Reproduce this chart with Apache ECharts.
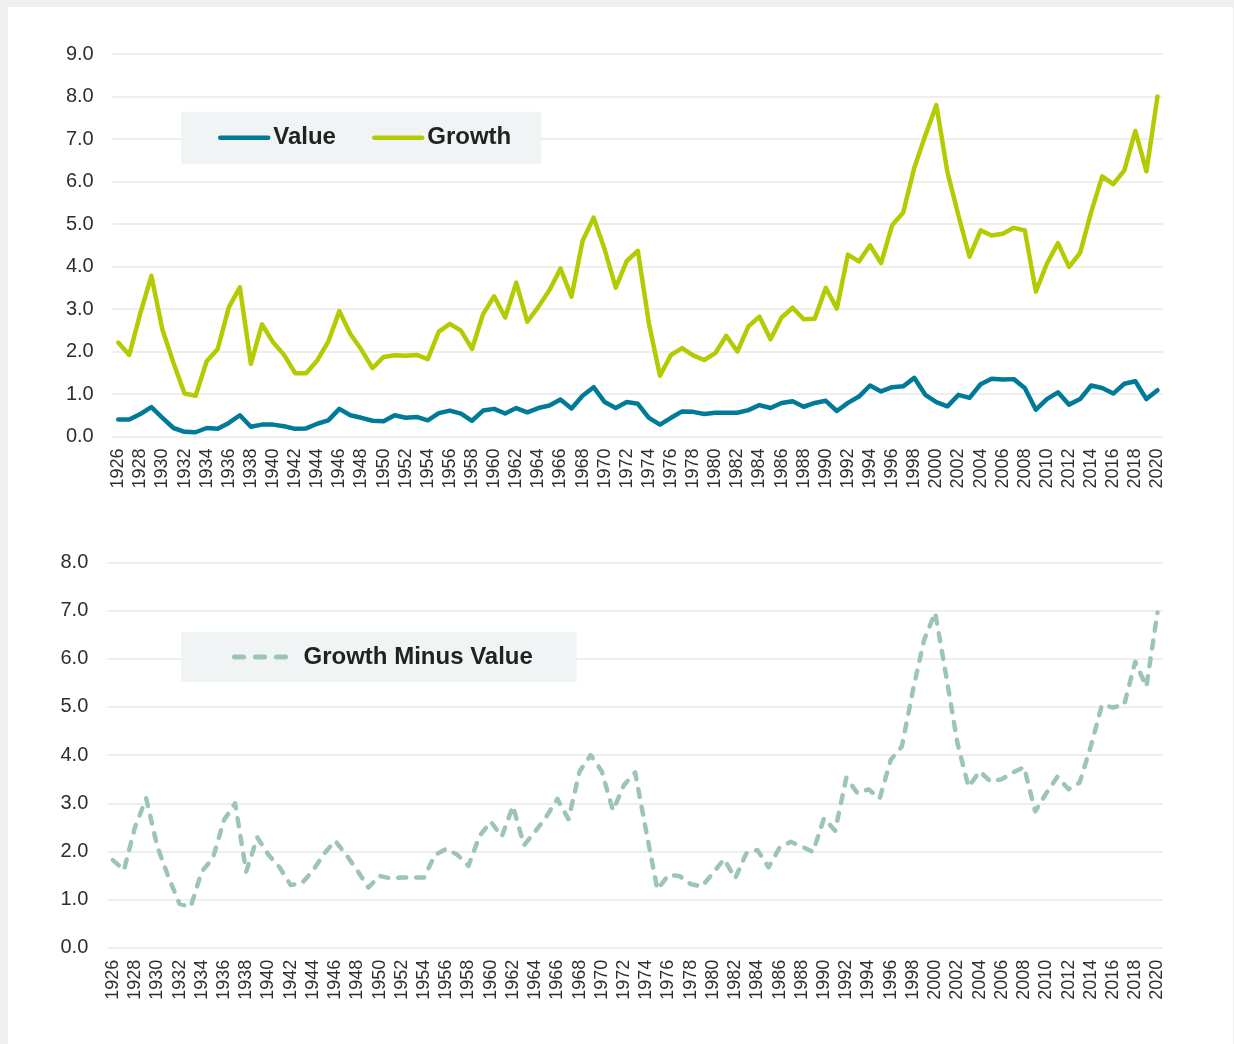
<!DOCTYPE html>
<html>
<head>
<meta charset="utf-8">
<script src="https://cdn.jsdelivr.net/npm/echarts@6/dist/echarts.min.js"></script>
<style>
  html, body { margin: 0; padding: 0; background: #efefef; width: 1234px; height: 1044px; overflow: hidden; }
  #chart { position: absolute; left: 8px; top: 7px; width: 1225px; height: 1037px; background: #ffffff; }
</style>
</head>
<body>
<div id="chart"></div>
<script>
const years = [
  '1926','1927','1928','1929','1930','1931','1932','1933','1934','1935',
  '1936','1937','1938','1939','1940','1941','1942','1943','1944','1945',
  '1946','1947','1948','1949','1950','1951','1952','1953','1954','1955',
  '1956','1957','1958','1959','1960','1961','1962','1963','1964','1965',
  '1966','1967','1968','1969','1970','1971','1972','1973','1974','1975',
  '1976','1977','1978','1979','1980','1981','1982','1983','1984','1985',
  '1986','1987','1988','1989','1990','1991','1992','1993','1994','1995',
  '1996','1997','1998','1999','2000','2001','2002','2003','2004','2005',
  '2006','2007','2008','2009','2010','2011','2012','2013','2014','2015',
  '2016','2017','2018','2019','2020'
];

const valueSeries = [
  0.40,0.40,0.53,0.69,0.44,0.20,0.11,0.10,0.20,0.18,
  0.32,0.50,0.23,0.28,0.28,0.24,0.18,0.19,0.30,0.38,
  0.65,0.50,0.44,0.37,0.36,0.50,0.44,0.46,0.38,0.55,
  0.61,0.54,0.37,0.61,0.65,0.54,0.67,0.57,0.67,0.73,
  0.87,0.66,0.96,1.16,0.81,0.67,0.81,0.77,0.44,0.28,
  0.44,0.59,0.58,0.53,0.56,0.56,0.56,0.62,0.74,0.67,
  0.79,0.83,0.70,0.79,0.84,0.60,0.79,0.94,1.20,1.06,
  1.16,1.18,1.38,0.98,0.81,0.71,0.98,0.91,1.23,1.36,
  1.34,1.35,1.14,0.63,0.88,1.04,0.75,0.88,1.20,1.14,
  1.01,1.24,1.30,0.88,1.09
];

const growthSeries = [
  2.21,1.92,2.90,3.78,2.51,1.73,1.01,0.96,1.77,2.06,
  3.04,3.51,1.71,2.64,2.22,1.92,1.49,1.49,1.79,2.23,
  2.95,2.41,2.04,1.61,1.87,1.91,1.90,1.92,1.82,2.47,
  2.65,2.49,2.06,2.88,3.30,2.80,3.62,2.70,3.05,3.44,
  3.95,3.29,4.60,5.15,4.40,3.50,4.13,4.37,2.66,1.43,
  1.92,2.08,1.91,1.80,1.96,2.37,2.00,2.59,2.82,2.29,
  2.80,3.03,2.76,2.77,3.50,3.01,4.28,4.12,4.50,4.08,
  4.97,5.27,6.32,7.08,7.80,6.22,5.20,4.23,4.85,4.73,
  4.77,4.91,4.85,3.41,4.07,4.55,3.99,4.32,5.28,6.12,
  5.94,6.26,7.19,6.24,8.00
];

const growthMinusValue = [
  1.82,1.61,2.51,3.10,2.10,1.47,0.91,0.85,1.58,1.86,
  2.65,3.00,1.58,2.29,1.93,1.67,1.30,1.34,1.60,1.95,
  2.22,1.93,1.60,1.25,1.49,1.44,1.46,1.46,1.46,1.93,
  2.05,1.93,1.70,2.32,2.62,2.31,2.94,2.13,2.41,2.72,
  3.09,2.67,3.66,4.00,3.66,2.85,3.38,3.64,2.41,1.21,
  1.51,1.49,1.32,1.27,1.55,1.84,1.44,1.96,2.03,1.67,
  2.08,2.20,2.10,1.99,2.69,2.43,3.53,3.21,3.29,3.10,
  3.90,4.18,5.35,6.39,6.96,5.63,4.25,3.34,3.66,3.45,
  3.50,3.64,3.75,2.83,3.21,3.55,3.29,3.43,4.18,5.04,
  4.99,5.04,5.94,5.42,6.96
];

const topTicks = { min: 0, max: 9, interval: 1 };
const bottomTicks = { min: 0, max: 8, interval: 1 };

const OX = 8, OY = 7;
const FONT = 'Liberation Sans, Arial, Helvetica, sans-serif';
const COL_VALUE = '#007a99';
const COL_GROWTH = '#b3cb00';
const COL_DIFF = '#9cc5b7';
const LABEL_COLOR = '#2e2e2e';
const GRID_COLOR = '#eeeeee';

const chart = echarts.init(document.getElementById('chart'), null, { renderer: 'canvas' });

function xAxisFor(gridIndex) {
  return {
    type: 'category',
    gridIndex: gridIndex,
    data: years,
    boundaryGap: true,
    axisLine: { show: false },
    axisTick: { show: false },
    splitLine: { show: false },
    axisLabel: {
      interval: 1,
      rotate: 90,
      margin: 12,
      color: LABEL_COLOR,
      fontSize: 18,
      fontFamily: FONT
    }
  };
}

function yAxisFor(gridIndex, t) {
  return {
    type: 'value',
    gridIndex: gridIndex,
    min: t.min,
    max: t.max,
    interval: t.interval,
    axisLine: { show: false },
    axisTick: { show: false },
    splitLine: { show: true, lineStyle: { color: GRID_COLOR, width: 2 } },
    axisLabel: {
      margin: 19,
      color: LABEL_COLOR,
      fontSize: 20,
      fontFamily: FONT,
      formatter: v => v.toFixed(1)
    }
  };
}

const hiddenSymbol = { color: 'transparent', borderColor: 'transparent', borderWidth: 0, opacity: 0 };

const option = {
  backgroundColor: '#ffffff',
  animation: false,
  textStyle: { fontFamily: FONT },
  grid: [
    { left: 112.7 - OX, top: 54 - OY, width: 1163 - 112.7, height: 382.5, containLabel: false },
    { left: 107.3 - OX, top: 562.5 - OY, width: 1163 - 107.3, height: 385.2, containLabel: false }
  ],
  xAxis: [xAxisFor(0), xAxisFor(1)],
  yAxis: [yAxisFor(0, topTicks), yAxisFor(1, bottomTicks)],
  legend: [
    {
      data: ['Value', 'Growth'],
      left: 181 - OX,
      top: 111.7 - OY,
      orient: 'horizontal',
      backgroundColor: '#f1f4f5',
      padding: [14, 30, 14, 37],
      itemGap: 36,
      itemWidth: 48,
      itemHeight: 24,
      itemStyle: hiddenSymbol,
      lineStyle: { width: 4.5, cap: 'round' },
      textStyle: { fontSize: 24, fontWeight: 'bold', color: '#222222', fontFamily: FONT, lineHeight: 24 }
    },
    {
      data: ['Growth Minus Value'],
      left: 181 - OX,
      top: 632 - OY,
      orient: 'horizontal',
      backgroundColor: '#f1f4f5',
      padding: [13, 44, 13, 51],
      itemWidth: 58,
      itemHeight: 24,
      itemStyle: hiddenSymbol,
      lineStyle: { width: 5, cap: 'round', type: [9, 12] },
      textStyle: { fontSize: 24, fontWeight: 'bold', color: '#222222', fontFamily: FONT, lineHeight: 24, padding: [0, 0, 0, 6] }
    }
  ],
  series: [
    {
      name: 'Growth',
      type: 'line',
      xAxisIndex: 0,
      yAxisIndex: 0,
      data: growthSeries,
      symbol: 'none',
      lineStyle: { color: COL_GROWTH, width: 4.5, join: 'round', cap: 'round' },
      itemStyle: { color: COL_GROWTH }
    },
    {
      name: 'Value',
      type: 'line',
      xAxisIndex: 0,
      yAxisIndex: 0,
      data: valueSeries,
      symbol: 'none',
      lineStyle: { color: COL_VALUE, width: 4.5, join: 'round', cap: 'round' },
      itemStyle: { color: COL_VALUE }
    },
    {
      name: 'Growth Minus Value',
      type: 'line',
      xAxisIndex: 1,
      yAxisIndex: 1,
      data: growthMinusValue,
      symbol: 'none',
      lineStyle: { color: COL_DIFF, width: 4.5, type: [8, 10], cap: 'round', join: 'round' },
      itemStyle: { color: COL_DIFF }
    }
  ]
};

chart.setOption(option);
</script>
</body>
</html>
